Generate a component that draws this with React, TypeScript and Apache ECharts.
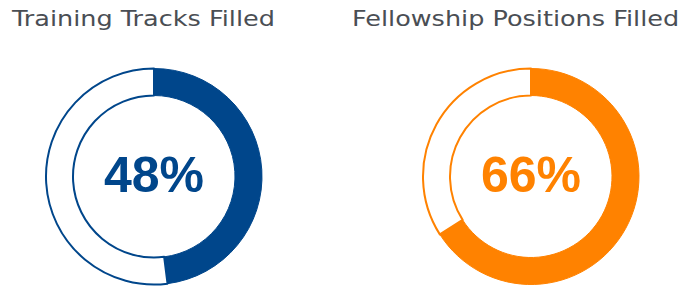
import React, { useEffect, useRef } from "react";
import * as echarts from "echarts";

const titles = ["Training Tracks Filled", "Fellowship Positions Filled"];
const filledPercents = [48, 66];
const colors = ["#00468b", "#ff8200"];

export default function App() {
  const ref = useRef<HTMLDivElement>(null);
  useEffect(() => {
    document.body.style.margin = "0";
    const chart = echarts.init(ref.current!, null, { renderer: "svg" });
    const centersX = [154, 531];
    const centerY = 176.5;
    const titleX = [12, 352];
    const titleTexts = titles.map((t, i) => ({
      type: "text",
      x: titleX[i],
      y: 19,
      scaleX: 1.16,
      style: {
        text: t,
        textAlign: "left",
        textVerticalAlign: "middle",
        fontFamily: "DejaVu Sans",
        fontSize: 22,
        fill: "#4a4e54",
      },
    }));
    const pctTexts = filledPercents.map((p, i) => ({
      type: "text",
      x: centersX[i],
      y: 175,
      style: {
        text: p + "%",
        textAlign: "center",
        textVerticalAlign: "middle",
        fontFamily: "Liberation Sans",
        fontWeight: "bold",
        fontSize: 50,
        fill: colors[i],
      },
    }));
    chart.setOption({
      animation: false,
      backgroundColor: "#ffffff",
      graphic: [...titleTexts, ...pctTexts],
      series: filledPercents.map((p, i) => ({
        type: "pie",
        center: [centersX[i], centerY],
        radius: [81, 108],
        startAngle: 90,
        clockwise: true,
        silent: true,
        label: { show: false },
        labelLine: { show: false },
        data: [
          {
            value: p,
            itemStyle: { color: colors[i], borderColor: colors[i], borderWidth: 1 },
          },
          {
            value: 100 - p,
            itemStyle: { color: "#ffffff", borderColor: colors[i], borderWidth: 2 },
          },
        ],
      })),
    });
    return () => chart.dispose();
  }, []);
  return (
    <div
      ref={ref}
      style={{ width: 691, height: 300, position: "absolute", left: 0, top: 0 }}
    />
  );
}
